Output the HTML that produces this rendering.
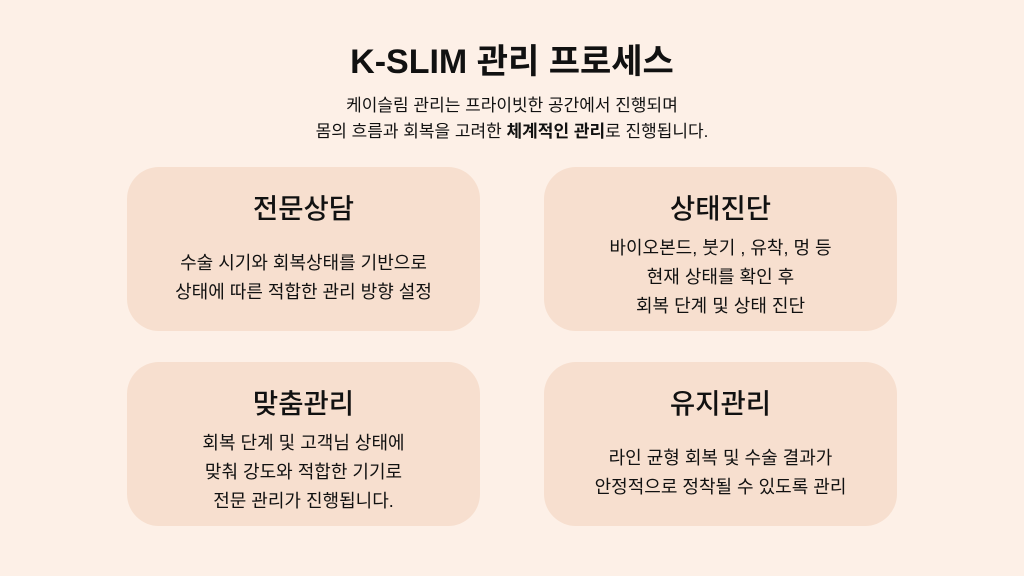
<!DOCTYPE html>
<html><head><meta charset="utf-8"><style>
body{margin:0;width:1024px;height:576px;background:#fdf0e7;font-family:"Liberation Sans","Noto Sans CJK KR",sans-serif;color:#111;position:relative;overflow:hidden}
.t{position:absolute;left:0;width:1024px;text-align:center}
h1{position:absolute;left:0;width:1024px;text-align:center;margin:0;top:39px;font-size:34px;font-weight:bold;line-height:46px}
.sub{font-size:17px;line-height:26px;top:93px}
.card{position:absolute;width:353px;height:164px;background:#f7dfcf;border-radius:32px;text-align:center}
.card h2{position:absolute;left:0;width:100%;margin:0;font-size:27.5px;font-weight:500;line-height:36px}
.card p{position:absolute;left:0;width:100%;margin:0;font-size:18px;line-height:29px}
</style></head><body>
<h1>K-SLIM 관리 프로세스</h1>
<div class="t sub">케이슬림 관리는 프라이빗한 공간에서 진행되며<br>몸의 흐름과 회복을 고려한 <b>체계적인 관리</b>로 진행됩니다.</div>
<div class="card" style="left:127px;top:167px"><h2 style="top:24px">전문상담</h2><p style="top:82px">수술 시기와 회복상태를 기반으로<br>상태에 따른 적합한 관리 방향 설정</p></div>
<div class="card" style="left:544px;top:167px"><h2 style="top:24px">상태진단</h2><p style="top:67px">바이오본드, 붓기 , 유착, 멍 등<br>현재 상태를 확인 후<br>회복 단계 및 상태 진단</p></div>
<div class="card" style="left:127px;top:362px"><h2 style="top:24px">맞춤관리</h2><p style="top:67px">회복 단계 및 고객님 상태에<br>맞춰 강도와 적합한 기기로<br>전문 관리가 진행됩니다.</p></div>
<div class="card" style="left:544px;top:362px"><h2 style="top:24px">유지관리</h2><p style="top:82px">라인 균형 회복 및 수술 결과가<br>안정적으로 정착될 수 있도록 관리</p></div>
</body></html>
